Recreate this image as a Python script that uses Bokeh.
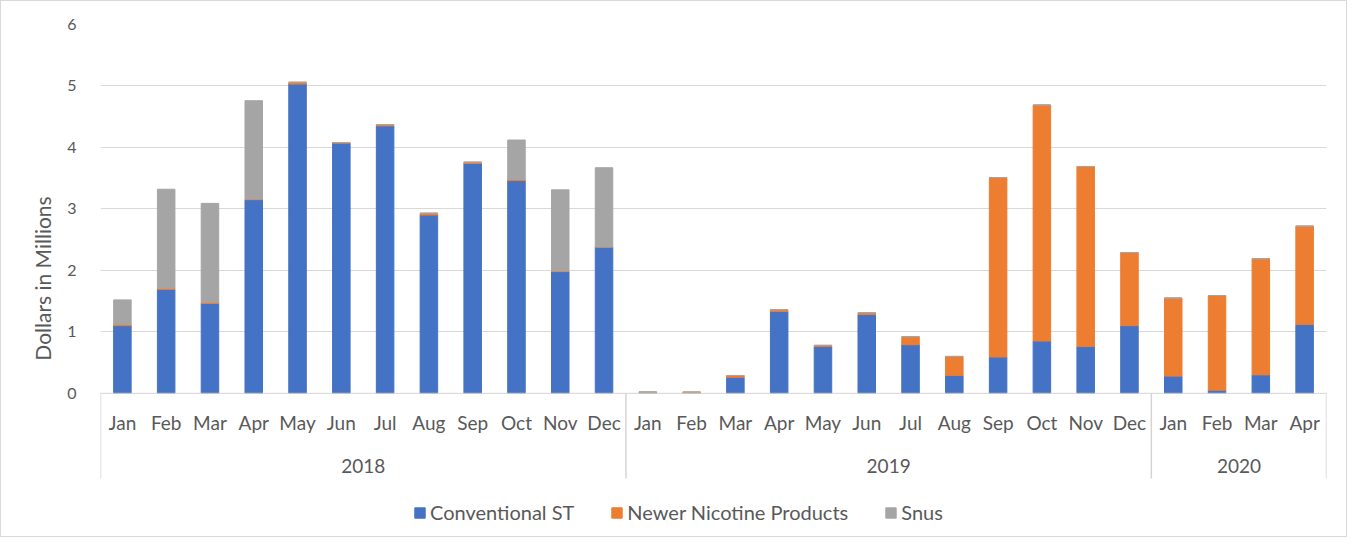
from bokeh.plotting import figure
from bokeh.models import (ColumnDataSource, FactorRange, Range1d, FixedTicker, Span,
                          Legend, LegendItem)
from bokeh.core.properties import value
from bokeh.embed import file_html
from bokeh.resources import INLINE

# ---------------- data ----------------
years = ["2018", "2019", "2020"]
months_2018 = ["Jan", "Feb", "Mar", "Apr", "May", "Jun", "Jul", "Aug", "Sep", "Oct", "Nov", "Dec"]
months_2019 = ["Jan", "Feb", "Mar", "Apr", "May", "Jun", "Jul", "Aug", "Sep", "Oct", "Nov", "Dec"]
months_2020 = ["Jan", "Feb", "Mar", "Apr"]

conventional_st = [1.10, 1.69, 1.46, 3.15, 5.03, 4.07, 4.35, 2.90, 3.74, 3.46, 1.98, 2.38,
                   0.015, 0.00, 0.26, 1.33, 0.76, 1.28, 0.79, 0.29, 0.59, 0.85, 0.76, 1.10,
                   0.28, 0.05, 0.30, 1.12]
newer_nicotine = [0.02, 0.02, 0.02, 0.01, 0.03, 0.01, 0.02, 0.03, 0.02, 0.02, 0.01, 0.00,
                  0.005, 0.02, 0.03, 0.03, 0.02, 0.03, 0.13, 0.31, 2.92, 3.84, 2.93, 1.19,
                  1.27, 1.54, 1.89, 1.60]
snus = [0.40, 1.61, 1.61, 1.60, 0.00, 0.00, 0.00, 0.00, 0.00, 0.64, 1.32, 1.29,
        0.00, 0.00, 0.00, 0.00, 0.00, 0.00, 0.00, 0.00, 0.00, 0.00, 0.00, 0.00,
        0.00, 0.00, 0.00, 0.00]

series_names = ["Conventional ST", "Newer Nicotine Products", "Snus"]
series_colors = ["#4472C4", "#ED7D31", "#A5A5A5"]
y_ticks = [0, 1, 2, 3, 4, 5, 6]

month_groups = [months_2018, months_2019, months_2020]
factors = [(y, m) for y, ms in zip(years, month_groups) for m in ms]

source = ColumnDataSource(dict(
    x=factors,
    month=[f[1] for f in factors],
    conv=conventional_st,
    newer=newer_nicotine,
    snus=snus,
))

FONT = value("Lato")
TEXT_COLOR = "#595959"
LINE_COLOR = "#D4D4D4"

p = figure(
    width=1347, height=537,
    x_range=FactorRange(*factors, factor_padding=0, group_padding=0, range_padding=0),
    y_range=Range1d(-2.2645, 6),
    output_backend="svg", toolbar_location=None, tools="",
    min_border_left=99, min_border_right=22, min_border_top=23, min_border_bottom=6,
    styles={"border": "1px solid #d9d9d9"},
)
p.outline_line_color = None
p.background_fill_color = "white"
p.border_fill_color = "white"

renderers = p.vbar_stack(["conv", "newer", "snus"], x="x", width=0.4, source=source,
                         color=series_colors)

# grid & axes
p.xgrid.visible = False
p.ygrid.ticker = FixedTicker(ticks=[t for t in y_ticks if t > 0])
p.ygrid.grid_line_color = "#D9D9D9"
p.ygrid.grid_line_width = 1
p.xaxis.visible = False

yax = p.yaxis[0]
yax.ticker = FixedTicker(ticks=y_ticks)
yax.axis_line_color = None
yax.major_tick_line_color = None
yax.minor_tick_line_color = None
yax.major_label_standoff = 18
yax.major_label_text_font = "Lato"
yax.major_label_text_font_size = "16px"
yax.major_label_text_color = TEXT_COLOR
yax.axis_label = "Dollars in Millions"
yax.axis_label_text_font = "Lato"
yax.axis_label_text_font_size = "21px"
yax.axis_label_text_font_style = "normal"
yax.axis_label_text_color = TEXT_COLOR
yax.axis_label_standoff = 9

# baseline
p.add_layout(Span(location=0, dimension="width", line_color=LINE_COLOR, line_width=1))

# category separators (group boundaries, derived from group sizes)
bounds = [0]
for ms in month_groups:
    bounds.append(bounds[-1] + len(ms))
p.segment(x0=bounds, y0=[0] * len(bounds), x1=bounds, y1=[-1.386] * len(bounds),
          line_color=LINE_COLOR, line_width=1.5)

# month labels
p.text(x="x", y=-0.475, text="month", source=source, text_font=FONT,
       text_font_size="19px", text_color=TEXT_COLOR, text_align="center",
       text_baseline="middle")
# year labels (centred on each top-level group)
p.text(x=years, y=[-1.19] * len(years), text=years, text_font=FONT,
       text_font_size="19px", text_color=TEXT_COLOR, text_align="center",
       text_baseline="middle")

legend = Legend(
    items=[LegendItem(label=n, renderers=[r]) for n, r in zip(series_names, renderers)],
    orientation="horizontal", location=(313, 8),
    label_text_font="Lato", label_text_font_size="20px", label_text_color=TEXT_COLOR,
    glyph_width=13, glyph_height=13, label_standoff=4, spacing=36,
    padding=0, margin=0, border_line_color=None, background_fill_alpha=0,
    label_height=23,
)
p.add_layout(legend)

open("out.html", "w").write(file_html(p, INLINE))
